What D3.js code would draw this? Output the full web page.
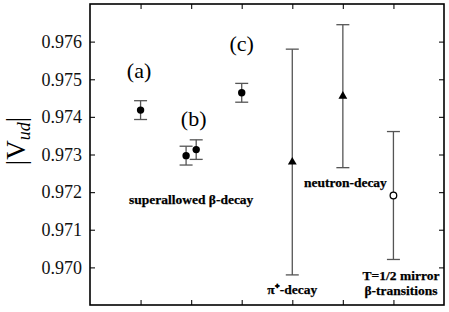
<!DOCTYPE html>
<html>
<head>
<meta charset="utf-8">
<script src="https://cdn.jsdelivr.net/npm/d3@7"></script>
<style>
  body { margin: 0; background: #fff; }
  svg text { font-family: "Liberation Serif", "Times New Roman", Times, serif !important; }
</style>
</head>
<body>
<div id="chart-area"></div>
<script>
// data points: x position (category slot), value, error
var xPos   = [1, 1.9, 2.1, 3, 4, 5, 6];
var vud    = [0.97418, 0.97297, 0.97313, 0.97464, 0.9728, 0.97455, 0.97191];
var vudErr = [0.00025, 0.00025, 0.00026, 0.00025, 0.0030, 0.0019, 0.0017];
var marker = ["dot", "dot", "dot", "dot", "tri", "tri", "open"];

var yTicks = [0.970, 0.971, 0.972, 0.973, 0.974, 0.975, 0.976];
var xTicks = [1, 2, 3, 4, 5, 6];

var letterLabels = ["(a)", "(b)", "(c)"];
var letterX = [0.97, 2.05, 3.0];
var letterY = [0.97503, 0.97375, 0.97575];

function draw() {
    var margin = {top: 4, right: 5, bottom: 7, left: 90},
    width = 449 - margin.left - margin.right,
    height = 312 - margin.top - margin.bottom;

    var svg = d3.select("#chart-area")
        .append("svg")
            .attr("width", 449)
            .attr("height", 312)
            .attr("font-family", "Liberation Serif")
        .append("g")
            .attr("transform", "translate(" + margin.left + "," + margin.top + ")");

    var x = d3.scaleLinear().domain([0, 7]).range([0, width]);
    var y = d3.scaleLinear().domain([0.969, 0.977]).range([height, 0]);

    var data = xPos.map(function(d, i) {
        return {x: d, v: vud[i], e: vudErr[i], m: marker[i]};
    });

    // ticks, all pointing inward
    svg.append("g")
        .attr("class", "y-axis")
        .call(d3.axisLeft(y).tickValues(yTicks).tickSize(-5).tickPadding(8).tickFormat(d3.format(".3f")))
        .call(g => g.select(".domain").remove())
        .call(g => g.selectAll("text").style("font-size", "18px").attr("fill", "#111"));
    svg.append("g")
        .attr("transform", "translate(" + width + ",0)")
        .call(d3.axisRight(y).tickValues(yTicks).tickSize(-5).tickFormat(""))
        .call(g => g.select(".domain").remove());
    svg.append("g")
        .attr("transform", "translate(0," + height + ")")
        .call(d3.axisBottom(x).tickValues(xTicks).tickSize(-5).tickFormat(""))
        .call(g => g.select(".domain").remove());
    svg.append("g")
        .call(d3.axisTop(x).tickValues(xTicks).tickSize(-5).tickFormat(""))
        .call(g => g.select(".domain").remove());
    svg.selectAll(".tick line").attr("stroke", "#222").attr("stroke-width", 1.2);

    // frame
    svg.append("rect")
        .attr("width", width)
        .attr("height", height)
        .attr("fill", "none")
        .attr("stroke", "#000")
        .attr("stroke-width", 1.6);

    // error bars
    var bars = svg.append("g").attr("class", "errs")
        .selectAll("g").data(data).enter().append("g");
    bars.append("line")
        .attr("x1", d => x(d.x)).attr("x2", d => x(d.x))
        .attr("y1", d => y(d.v + d.e)).attr("y2", d => y(d.v - d.e));
    bars.append("line")
        .attr("x1", d => x(d.x) - 6.5).attr("x2", d => x(d.x) + 6.5)
        .attr("y1", d => y(d.v + d.e)).attr("y2", d => y(d.v + d.e));
    bars.append("line")
        .attr("x1", d => x(d.x) - 6.5).attr("x2", d => x(d.x) + 6.5)
        .attr("y1", d => y(d.v - d.e)).attr("y2", d => y(d.v - d.e));
    bars.selectAll("line").attr("stroke", "#555").attr("stroke-width", 1.3);

    // markers
    var tri = d3.symbol().type(d3.symbolTriangle).size(34);
    bars.each(function(d) {
        var g = d3.select(this);
        if (d.m == "tri") {
            g.append("path")
                .attr("d", tri)
                .attr("transform", "translate(" + x(d.x) + "," + y(d.v) + ")")
                .attr("fill", "#000");
        } else {
            g.append("circle")
                .attr("cx", x(d.x)).attr("cy", y(d.v))
                .attr("r", d.m == "open" ? 3.3 : 3.7)
                .attr("fill", d.m == "open" ? "#fff" : "#000")
                .attr("stroke", "#000")
                .attr("stroke-width", d.m == "open" ? 1.3 : 0);
        }
    });

    // (a) (b) (c)
    svg.selectAll(".letter").data(letterLabels).enter().append("text")
        .attr("class", "letter")
        .attr("x", (d, i) => x(letterX[i]))
        .attr("y", (d, i) => y(letterY[i]))
        .attr("text-anchor", "middle")
        .style("font-size", "22px")
        .text(d => d);

    // group labels
    function label(txt, xv, yv) {
        svg.append("text")
            .attr("x", x(xv)).attr("y", y(yv))
            .attr("text-anchor", "middle")
            .style("font-size", "13.5px")
            .style("font-weight", "bold")
            .attr("stroke", "#000")
            .attr("stroke-width", 0.25)
            .text(txt);
    }
    label("superallowed \u03b2-decay", 2.0, 0.97168);
    label("neutron-decay", 5.05, 0.97213);
    label("\u03c0\u207a-decay", 4.0, 0.96929);
    label("T=1/2 mirror", 6.15, 0.96966);
    label("\u03b2-transitions", 6.15, 0.96926);

    // y axis label |V_ud|
    var yl = svg.append("text")
        .attr("transform", "translate(" + (25 - margin.left) + "," + (141 - margin.top) + ") rotate(-90)")
        .attr("text-anchor", "middle")
        .style("font-size", "27px");
    yl.append("tspan").text("|V");
    yl.append("tspan").attr("dy", 5).style("font-size", "18px").style("font-style", "italic").text("ud");
    yl.append("tspan").attr("dy", -5).text("|");
}

draw();
</script>
</body>
</html>
